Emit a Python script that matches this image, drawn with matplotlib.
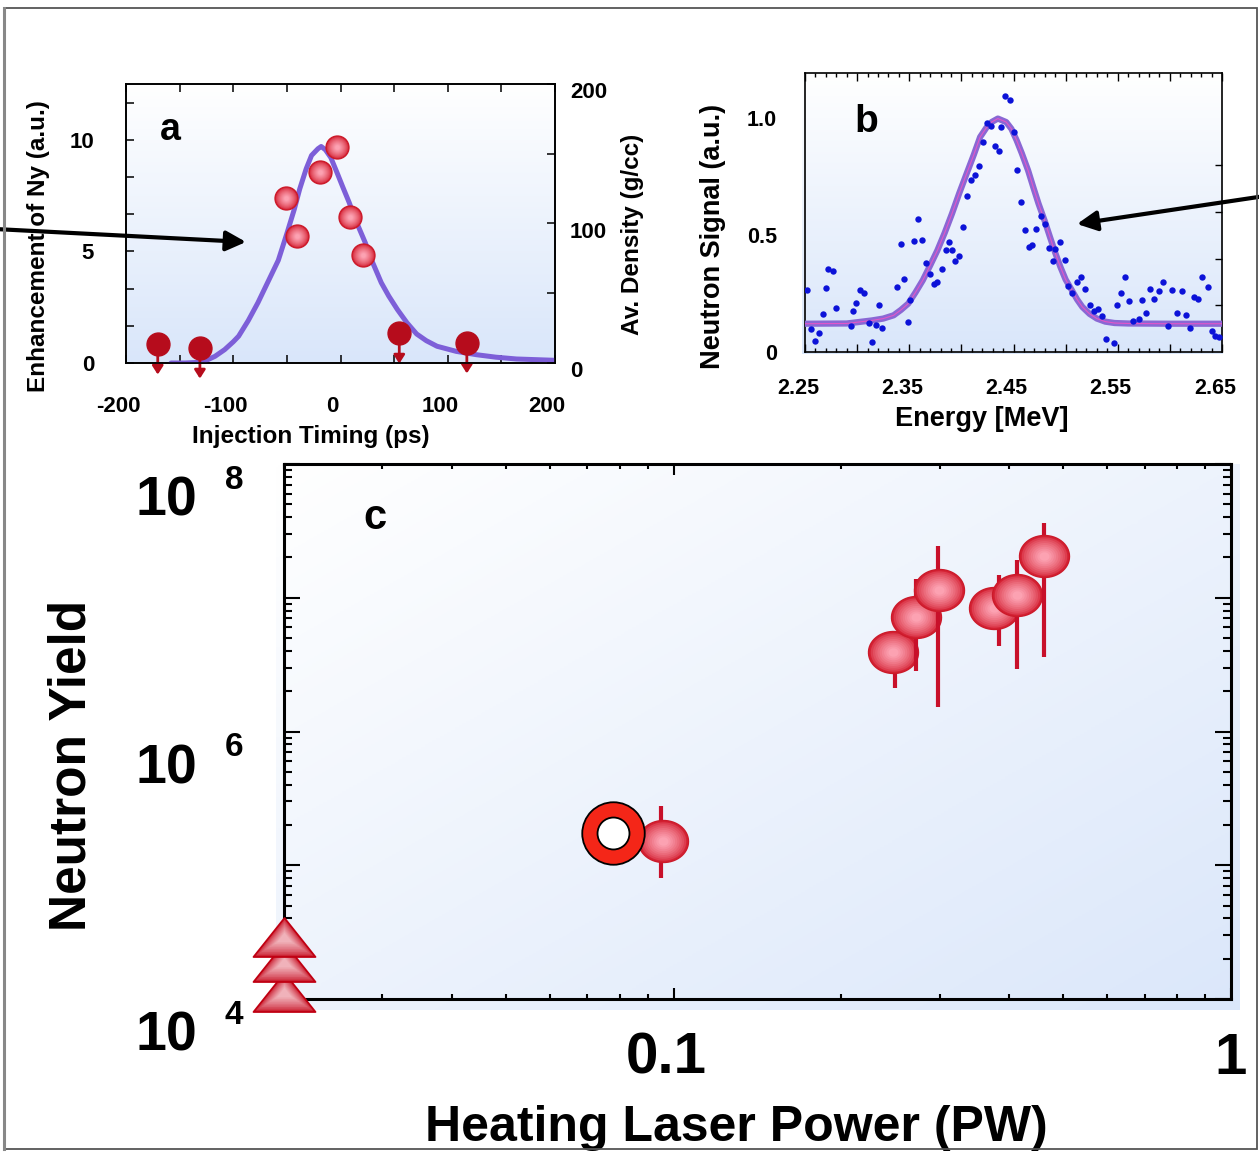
import numpy as np
import matplotlib
matplotlib.use("Agg")
import matplotlib.pyplot as plt
import matplotlib.ticker as mticker
from matplotlib.path import Path
from matplotlib.patches import FancyArrowPatch, Rectangle
from matplotlib.colors import to_rgb, LinearSegmentedColormap
from matplotlib.transforms import ScaledTranslation

# ---------------- data : panel a ----------------
a_fit_t = [-158, -145, -132, -125, -117, -108, -100, -95, -86, -77, -68, -58, -50, -43, -38,
           -32, -27, -21, -18, -14, -9, -3, 2, 8, 15, 23, 30, 38, 45, 53, 62, 71, 80, 90,
           108, 127, 145, 164, 182, 200]
a_fit_y = [0.0, 0.0, 0.03, 0.12, 0.3, 0.6, 0.95, 1.2, 1.9, 2.7, 3.6, 4.6, 5.8, 6.9, 7.8,
           8.7, 9.3, 9.6, 9.7, 9.55, 9.2, 8.5, 7.9, 7.2, 6.3, 5.4, 4.5, 3.6, 3.0, 2.4, 1.8, 1.3, 1.0, 0.75,
           0.52, 0.37, 0.26, 0.18, 0.15, 0.12]
a_pts_t = [-50.7, -40.4, -19.3, -3.7, 8.5, 20.7]
a_pts_y = [7.39, 5.70, 8.55, 9.69, 6.55, 4.84]
a_ul_t = [-170.4, -131.1, 54.8, 117.8]
a_ul_y = [0.85, 0.67, 1.34, 0.90]
a_xticks = [-200, -100, 0, 100, 200]
a_xticklabels = ['-200', '-100', '0', '100', '200']
a_yticks = [0, 5, 10]
a_yticklabels = ['0', '5', '10']
a_rticks = [0, 100, 200]
a_rticklabels = ['0', '100', '200']

# ---------------- data : panel b ----------------
b_fit_e = [2.25, 2.29, 2.314, 2.325, 2.335, 2.342, 2.349, 2.356, 2.363, 2.370, 2.377, 2.384,
           2.391, 2.398, 2.405, 2.412, 2.418, 2.424, 2.429, 2.435, 2.443, 2.448, 2.453, 2.458,
           2.464, 2.469, 2.474, 2.480, 2.485, 2.490, 2.495, 2.500, 2.506, 2.511, 2.516, 2.523,
           2.530, 2.538, 2.547, 2.56, 2.60, 2.65]
b_fit_y = [0.121, 0.122, 0.135, 0.143, 0.157, 0.18, 0.207, 0.255, 0.307, 0.37, 0.435, 0.51,
           0.592, 0.68, 0.763, 0.845, 0.920, 0.96, 0.984, 0.999, 0.984, 0.955, 0.906, 0.85,
           0.777, 0.705, 0.635, 0.56, 0.492, 0.425, 0.364, 0.31, 0.264, 0.225, 0.193, 0.163,
           0.143, 0.13, 0.124, 0.122, 0.121, 0.121]
b_pts_e = [2.252, 2.256, 2.260, 2.263, 2.267, 2.270, 2.272, 2.277, 2.280, 2.294, 2.296, 2.299,
           2.303, 2.307, 2.311, 2.314, 2.318, 2.321, 2.324, 2.338, 2.342, 2.345, 2.349, 2.351,
           2.355, 2.358, 2.362, 2.366, 2.370, 2.374, 2.377, 2.381, 2.385, 2.388, 2.391, 2.394,
           2.398, 2.402, 2.405, 2.409, 2.413, 2.417, 2.421, 2.425, 2.428, 2.432, 2.436, 2.438,
           2.442, 2.447, 2.450, 2.453, 2.457, 2.461, 2.465, 2.468, 2.472, 2.476, 2.480, 2.484,
           2.488, 2.490, 2.495, 2.499, 2.502, 2.506, 2.511, 2.515, 2.519, 2.523, 2.527, 2.531,
           2.535, 2.539, 2.546, 2.549, 2.553, 2.557, 2.561, 2.565, 2.570, 2.573, 2.577, 2.581,
           2.585, 2.590, 2.593, 2.598, 2.602, 2.607, 2.612, 2.615, 2.619, 2.623, 2.627, 2.631,
           2.637, 2.640, 2.643, 2.647]
b_pts_y = [0.264, 0.100, 0.046, 0.081, 0.164, 0.272, 0.357, 0.347, 0.188, 0.110, 0.174, 0.210,
           0.267, 0.254, 0.126, 0.043, 0.114, 0.200, 0.103, 0.278, 0.461, 0.312, 0.130, 0.224,
           0.475, 0.569, 0.478, 0.381, 0.332, 0.292, 0.298, 0.357, 0.435, 0.469, 0.438, 0.391,
           0.409, 0.535, 0.668, 0.736, 0.756, 0.795, 0.900, 0.981, 0.967, 0.880, 0.860, 0.963,
           1.096, 1.077, 0.943, 0.780, 0.642, 0.524, 0.448, 0.458, 0.528, 0.583, 0.548, 0.445,
           0.389, 0.439, 0.469, 0.395, 0.284, 0.252, 0.298, 0.321, 0.271, 0.203, 0.174, 0.185,
           0.155, 0.057, 0.039, 0.203, 0.252, 0.321, 0.218, 0.133, 0.143, 0.224, 0.168, 0.271,
           0.228, 0.262, 0.298, 0.110, 0.267, 0.168, 0.262, 0.157, 0.104, 0.234, 0.228, 0.321,
           0.277, 0.090, 0.067, 0.064]
b_xticks = [2.25, 2.30, 2.35, 2.40, 2.45, 2.50, 2.55, 2.60, 2.65]
b_xticklabels = ['2.25', '', '2.35', '', '2.45', '', '2.55', '', '2.65']
b_yticks = [0, 0.5, 1.0]
b_yticklabels = ['0', '0.5', '1.0']

# ---------------- data : panel c ----------------
c_ref_x = [0.078]
c_ref_y = [1.75e5]
c_x = [0.0957, 0.2473, 0.2723, 0.2991, 0.3763, 0.4134, 0.4615]
c_y = [1.51e5, 3.94e6, 7.18e6, 1.15e7, 8.38e6, 1.04e7, 2.05e7]
c_errx = [0.0948, 0.2496, 0.2723, 0.2979, 0.3842, 0.4137, 0.4620]
c_lo = [8.08e4, 2.11e6, 2.84e6, 1.53e6, 4.35e6, 2.93e6, 3.61e6]
c_hi = [2.79e5, 5.25e6, 1.37e7, 2.43e7, 1.49e7, 1.90e7, 3.65e7]
c_ll_x = [0.02, 0.02, 0.02]
c_ll_y = [1.12e4, 1.90e4, 2.92e4]
c_xticks = [0.1, 1.0]
c_xticklabels = ['0.1', '1']
c_ylabel_vals = [1e4, 1e6, 1e8]
c_ylabel_exps = ['4', '6', '8']

# ---------------- figure ----------------
plt.rcParams['font.family'] = ['Liberation Sans', 'DejaVu Sans']
plt.rcParams['font.weight'] = 'bold'
plt.rcParams['axes.labelweight'] = 'bold'

W, H, DPI = 1259, 1153, 100
fig = plt.figure(figsize=(W / DPI, H / DPI), dpi=DPI)


def fx(px):
    return px / W


def fy(py):
    return 1 - py / H


def rect(l, t, r, b):
    return [l / W, 1 - b / H, (r - l) / W, (b - t) / H]


def shift_labels(labels, dx_px, dy_px):
    off = ScaledTranslation(dx_px / DPI, dy_px / DPI, fig.dpi_scale_trans)
    for lab in labels:
        lab.set_transform(lab.get_transform() + off)


def gradient_bg(r, diagonal=False, c0='#ffffff', c1='#d9e6fa'):
    bg = fig.add_axes(r, zorder=-10)
    bg.set_axis_off()
    n = 256
    if diagonal:
        xx, yy = np.meshgrid(np.linspace(0, 1, n), np.linspace(0, 1, n))
        g = (xx + yy) / 2
    else:
        g = np.linspace(0, 1, n)[:, None] * np.ones((1, 2))
    cmap = LinearSegmentedColormap.from_list('bg', [c0, c1])
    bg.imshow(g, cmap=cmap, aspect='auto', extent=[0, 1, 0, 1], origin='upper', vmin=0, vmax=1)
    bg.set_xlim(0, 1)
    bg.set_ylim(0, 1)


def layered(ax, x, y, marker, size, edge, center, outline, n=10, z=5.0, clip=True,
            shrink=0.8, ow=1.0):
    ce = np.array(to_rgb(edge))
    cc = np.array(to_rgb(center))
    for k in range(n):
        f = k / (n - 1)
        col = ce + (cc - ce) * f ** 0.7
        ax.plot(x, y, ls='none', marker=marker, ms=size * (1 - shrink * f),
                mfc=col, mec=outline if k == 0 else col, mew=ow if k == 0 else 0.0,
                zorder=z + 0.001 * k, clip_on=clip)


ellipse_marker = Path(np.column_stack([np.cos(np.linspace(0, 2 * np.pi, 60)),
                                       0.84 * np.sin(np.linspace(0, 2 * np.pi, 60))]),
                      closed=True)
tri_marker = Path([(-0.5, -0.3145), (0.5, -0.3145), (0.0, 0.3145), (-0.5, -0.3145)], closed=True)

RED_E, RED_C, RED_O = '#d42234', '#fca2b2', '#cc1a2a'

# ================= panel a =================
gradient_bg(rect(126, 84, 555, 363))
axa = fig.add_axes(rect(126, 84, 555, 363))
axa.patch.set_visible(False)
axa.set_xlim(-200, 200)
axa.set_ylim(0, 12.5)
axa.plot(a_fit_t, a_fit_y, color='#7d5fd8', lw=3.6, solid_capstyle='round',
         solid_joinstyle='round', zorder=3)
for t, v in zip(a_ul_t, a_ul_y):
    axa.annotate('', xy=(t, v), xytext=(0, -22), textcoords='offset points',
                 arrowprops=dict(arrowstyle='<|-,head_length=0.5,head_width=0.32',
                                 color='#b60c1c', lw=2, shrinkA=0, shrinkB=0,
                                 mutation_scale=10),
                 zorder=4, annotation_clip=False)
axa.plot(a_ul_t, a_ul_y, ls='none', marker='o', ms=16.5, color='#b60c1c', zorder=5, clip_on=False)
layered(axa, a_pts_t, a_pts_y, 'o', 16.5, RED_E, RED_C, RED_O, z=5)

axa.xaxis.set_major_locator(mticker.FixedLocator(a_xticks))
axa.xaxis.set_major_formatter(mticker.FixedFormatter(a_xticklabels))
axa.xaxis.set_minor_locator(mticker.MultipleLocator(50))
axa.yaxis.set_major_locator(mticker.FixedLocator(a_yticks))
axa.yaxis.set_major_formatter(mticker.FixedFormatter(a_yticklabels))
axa.yaxis.set_minor_locator(mticker.MultipleLocator(5 / 3))
axa.tick_params(which='both', direction='in', top=True, right=False, length=6, width=1.1,
                labelsize=16)
axa.tick_params(axis='x', pad=24)
axa.tick_params(axis='y', pad=23)
for s in axa.spines.values():
    s.set_linewidth(1.2)

axa2 = axa.twinx()
axa2.set_ylim(0, 200)
axa2.yaxis.set_major_locator(mticker.FixedLocator(a_rticks))
axa2.yaxis.set_major_formatter(mticker.FixedFormatter(a_rticklabels))
axa2.yaxis.set_minor_locator(mticker.MultipleLocator(50))
axa2.tick_params(which='both', direction='in', length=6, width=1.1, labelsize=16, pad=15)
for s in axa2.spines.values():
    s.set_linewidth(1.2)

axa.set_xlabel('Injection Timing (ps)', fontsize=17.5, va='center')
axa.xaxis.set_label_coords(fx(311), fy(436), transform=fig.transFigure)
axa.set_ylabel('Enhancement of Ny (a.u.)', fontsize=17.5, va='center')
axa.yaxis.set_label_coords(fx(39), fy(246), transform=fig.transFigure)
axa2.set_ylabel('Av. Density (g/cc)', fontsize=17.5, va='center', rotation=90)
axa2.yaxis.set_label_coords(fx(633), fy(234), transform=fig.transFigure)
axa.text(0.1026, 0.835, 'a', transform=axa.transAxes, fontsize=27, fontweight='bold',
         ha='center', va='center')

# ================= panel b =================
gradient_bg(rect(802, 73, 1222, 354))
axb = fig.add_axes(rect(805, 73, 1222, 352))
axb.patch.set_visible(False)
axb.set_xlim(2.25, 2.65)
axb.set_ylim(0, 1.194)
axb.plot(b_fit_e, b_fit_y, color='#8a68d4', lw=4.5, solid_joinstyle='round', zorder=3)
axb.plot(b_fit_e, b_fit_y, color='#e455c8', lw=0.8, zorder=3.1)
axb.plot(b_pts_e, b_pts_y, ls='none', marker='o', ms=4.6, color='#0c12d8', mew=0, zorder=4)

axb.xaxis.set_major_locator(mticker.FixedLocator(b_xticks))
axb.xaxis.set_major_formatter(mticker.FixedFormatter(b_xticklabels))
axb.xaxis.set_minor_locator(mticker.MultipleLocator(0.01))
axb.tick_params(axis='x', which='both', direction='in', top=True, bottom=True, width=1.0,
                labelsize=15.5, pad=18.5)
axb.tick_params(axis='x', which='major', length=5.8)
axb.tick_params(axis='x', which='minor', length=2.9)
axb.yaxis.set_major_locator(mticker.FixedLocator(b_yticks))
axb.yaxis.set_major_formatter(mticker.FixedFormatter(b_yticklabels))
axb.yaxis.set_minor_locator(mticker.MultipleLocator(0.2))
axb.tick_params(axis='y', which='major', left=True, right=False, length=0, labelsize=15.5,
                pad=20)
axb.tick_params(axis='y', which='minor', left=False, right=True, direction='in', length=5,
                width=1.0)
for s in axb.spines.values():
    s.set_linewidth(1.2)
axb.set_xlabel('Energy [MeV]', fontsize=19.5, va='center')
axb.xaxis.set_label_coords(fx(982), fy(419), transform=fig.transFigure)
axb.set_ylabel('Neutron Signal (a.u.)', fontsize=19.5, va='center')
axb.yaxis.set_label_coords(fx(713), fy(236), transform=fig.transFigure)
axb.text(0.146, 0.824, 'b', transform=axb.transAxes, fontsize=28, fontweight='bold',
         ha='center', va='center')

# ================= panel c =================
gradient_bg(rect(276, 464, 1240, 1010), diagonal=True, c1='#dbe7fa')
axc = fig.add_axes(rect(284, 464, 1231, 999))
axc.patch.set_visible(False)
axc.set_xscale('log')
axc.set_yscale('log')
axc.set_xlim(0.02, 1.0)
axc.set_ylim(1e4, 1e8)

for i in range(len(c_x)):
    z = 4 + i * 0.1
    axc.errorbar([c_errx[i]], [c_y[i]], yerr=[[c_y[i] - c_lo[i]], [c_hi[i] - c_y[i]]],
                 fmt='none', ecolor='#c8102a', elinewidth=3, capsize=0, zorder=z)
    layered(axc, [c_x[i]], [c_y[i]], ellipse_marker, 36, RED_E, RED_C, RED_O, z=z + 0.02)

axc.plot(c_ref_x, c_ref_y, ls='none', marker='o', ms=45, mfc='#f42618', mec='black', mew=1.3,
         zorder=6)
axc.plot(c_ref_x, c_ref_y, ls='none', marker='o', ms=23, mfc='white', mec='black', mew=1.3,
         zorder=6.05)

for j in range(len(c_ll_y)):
    layered(axc, [c_ll_x[j]], [c_ll_y[j]], tri_marker, 44.6, '#c81628', '#f0b2ba', '#c00012',
            z=7 + 0.05 * j, clip=False, shrink=0.75, ow=1.3)

axc.xaxis.set_major_locator(mticker.FixedLocator(c_xticks))
axc.xaxis.set_major_formatter(mticker.FixedFormatter(c_xticklabels))
axc.xaxis.set_minor_locator(mticker.LogLocator(base=10, subs=np.arange(2, 10), numticks=10))
axc.xaxis.set_minor_formatter(mticker.NullFormatter())
axc.yaxis.set_major_locator(mticker.LogLocator(base=10, numticks=10))
axc.yaxis.set_minor_locator(mticker.LogLocator(base=10, subs=np.arange(2, 10), numticks=10))
axc.yaxis.set_major_formatter(mticker.NullFormatter())
axc.yaxis.set_minor_formatter(mticker.NullFormatter())
axc.tick_params(axis='x', which='both', direction='in', top=True, bottom=True, width=1.5)
axc.tick_params(axis='x', which='major', length=8, pad=23.5, labelsize=42)
axc.tick_params(axis='x', which='minor', length=3.6)
axc.tick_params(axis='y', which='both', direction='in', left=True, right=True, width=1.5,
                labelleft=False)
axc.tick_params(axis='y', which='major', length=11.5)
axc.tick_params(axis='y', which='minor', length=5.8)
for s in axc.spines.values():
    s.set_linewidth(2.2)

for val, ex in zip(c_ylabel_vals, c_ylabel_exps):
    axc.annotate('10', xy=(0, val), xycoords=('axes fraction', 'data'), xytext=(-62.6, -37.4),
                 textcoords='offset points', ha='right', va='baseline', fontsize=40,
                 fontweight='bold', annotation_clip=False)
    axc.annotate(ex, xy=(0, val), xycoords=('axes fraction', 'data'), xytext=(-42.5, -18),
                 textcoords='offset points', ha='left', va='baseline', fontsize=24,
                 fontweight='bold', annotation_clip=False)

axc.set_xlabel('Heating Laser Power (PW)', fontsize=36, va='bottom')
axc.xaxis.set_label_coords(fx(736), fy(1151), transform=fig.transFigure)
axc.set_ylabel('Neutron Yield', fontsize=37, va='center')
axc.yaxis.set_label_coords(fx(72), fy(765), transform=fig.transFigure)
axc.text(0.096, 0.899, 'c', transform=axc.transAxes, fontsize=30, fontweight='bold',
         ha='center', va='center')

# ---------- small label offsets as in the reference ----------
shift_labels([t.label1 for t in axa.xaxis.get_major_ticks()], -8, 0)
shift_labels([t.label2 for t in axa2.yaxis.get_major_ticks()], -6, -6)
shift_labels([t.label1 for t in axb.xaxis.get_major_ticks()], -7, 0)
shift_labels([axc.xaxis.get_major_ticks()[0].label1], -7, 0)

# ================= arrows & frame =================
fig.add_artist(FancyArrowPatch((fx(-5), fy(229)), (fx(246), fy(242)), transform=fig.transFigure,
                               arrowstyle='-|>,head_length=0.6,head_width=0.3', mutation_scale=20,
                               lw=3, color='black', shrinkA=0, shrinkB=0, zorder=20))
fig.add_artist(FancyArrowPatch((fx(1265), fy(196)), (fx(1077), fy(224)), transform=fig.transFigure,
                               arrowstyle='-|>,head_length=0.6,head_width=0.3', mutation_scale=20,
                               lw=3, color='black', shrinkA=0, shrinkB=0, zorder=20))
fig.add_artist(Rectangle((fx(3.5), fy(1149)), fx(1257) - fx(3.5), fy(8) - fy(1149),
                         transform=fig.transFigure, fill=False, edgecolor='#555555', lw=1.3,
                         zorder=30))
fig.add_artist(plt.Line2D([fx(4), fx(4)], [fy(8), fy(1149)], transform=fig.transFigure,
                          color='#888888', lw=2.2, zorder=30))

fig.savefig('out.png', dpi=DPI)
